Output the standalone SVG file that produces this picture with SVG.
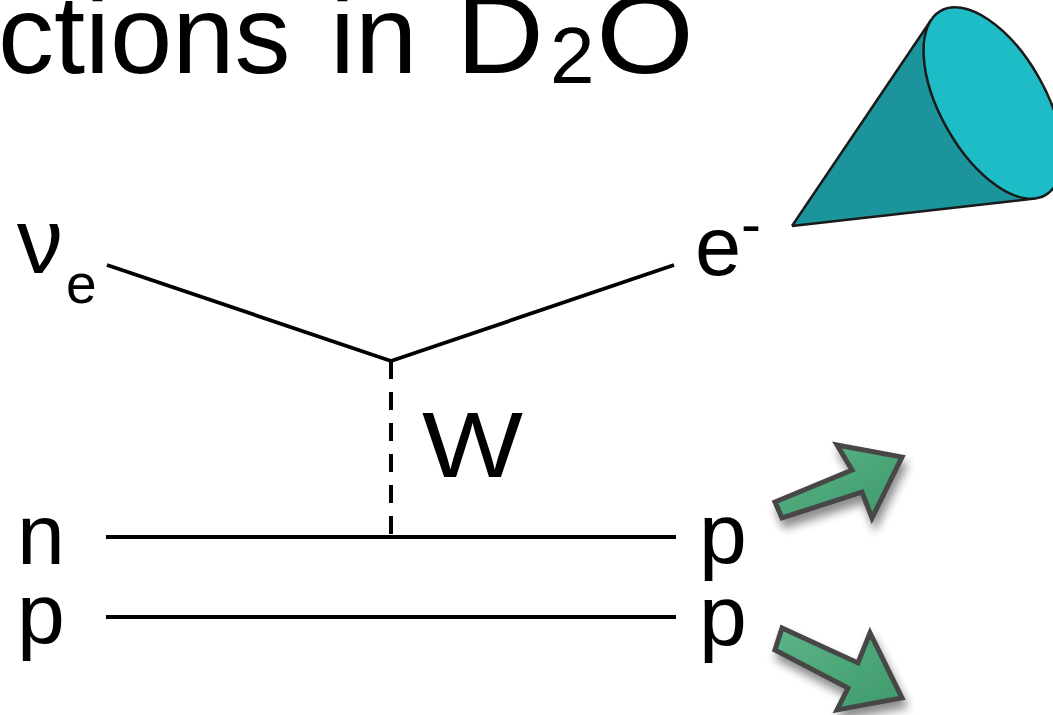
<svg xmlns="http://www.w3.org/2000/svg" width="1053" height="715" viewBox="0 0 1053 715">
  <defs>
    <style>
      .txt { font-family: "Liberation Sans", Arial, sans-serif; fill: #000; }
      .line { stroke: #000; stroke-width: 3.8; fill: none; }
      .dash { stroke: #000; stroke-width: 4; fill: none; stroke-dasharray: 18 13; }
      .arrow { fill: url(#greenFill); stroke: #474747; stroke-width: 5; stroke-linejoin: miter; filter: url(#shadow); }
      .cone-edge { stroke: #1a1a1a; stroke-width: 2.5; fill: none; }
    </style>
    <linearGradient id="greenFill" x1="0" y1="0" x2="1" y2="1">
      <stop offset="0" stop-color="#5cb487"/>
      <stop offset="1" stop-color="#3e9a6a"/>
    </linearGradient>
    <filter id="shadow" x="-30%" y="-30%" width="170%" height="170%">
      <feGaussianBlur in="SourceAlpha" stdDeviation="5"/>
      <feOffset dx="3" dy="8" result="blur"/>
      <feComponentTransfer><feFuncA type="linear" slope="0.45"/></feComponentTransfer>
      <feMerge><feMergeNode/><feMergeNode in="SourceGraphic"/></feMerge>
    </filter>
  </defs>

  <rect width="1053" height="715" fill="#fff"/>

  <!-- title -->
  <g id="title" class="txt" font-size="112">
    <text x="-2" y="73">ctions</text>
    <text x="330" y="73">in</text>
    <text x="456" y="73" textLength="88" lengthAdjust="spacingAndGlyphs">D</text>
    <text x="550" y="83" font-size="80">2</text>
    <text x="596" y="73" textLength="98" lengthAdjust="spacingAndGlyphs">O</text>
  </g>

  <!-- detector cone -->
  <g id="cone">
    <polygon points="792,226 931.3,19.7 1034.8,198.6" fill="#1b959b"/>
    <line class="cone-edge" x1="792" y1="226" x2="931.3" y2="19.7"/>
    <line class="cone-edge" x1="792" y1="226" x2="1034.8" y2="198.6"/>
    <ellipse cx="993" cy="103" rx="106" ry="52.5" transform="rotate(60.4 993 103)" fill="#1dbcc6" stroke="#1a1a1a" stroke-width="2.5"/>
  </g>

  <!-- propagators -->
  <g id="connectors">
    <line class="line" x1="107" y1="265" x2="391" y2="361"/>
    <line class="line" x1="391" y1="361" x2="674" y2="265"/>
    <line class="dash" x1="391" y1="361" x2="391" y2="537"/>
    <line class="line" x1="106" y1="537" x2="676" y2="537"/>
    <line class="line" x1="106" y1="617" x2="676" y2="617"/>
  </g>

  <!-- particle labels -->
  <g id="nu-e" class="txt">
    <text x="17" y="273" font-size="92">ν</text>
    <text x="66" y="303" font-size="55">e</text>
  </g>
  <g id="electron" class="txt">
    <text x="695" y="275" font-size="83">e</text>
    <text x="741" y="244" font-size="60">-</text>
  </g>
  <g id="w-boson" class="txt">
    <text x="422" y="477" font-size="93" textLength="101" lengthAdjust="spacingAndGlyphs">W</text>
  </g>
  <g id="neutron-in" class="txt"><text x="17" y="564" font-size="86">n</text></g>
  <g id="proton-in" class="txt"><text x="17" y="643" font-size="86">p</text></g>
  <g id="proton-out-1" class="txt"><text x="699" y="563" font-size="86">p</text></g>
  <g id="proton-out-2" class="txt"><text x="699" y="645" font-size="86">p</text></g>

  <!-- recoil arrows -->
  <g id="arrow-up">
    <polygon class="arrow" points="775,502 852,470 837,445 902,457 872,518 862,492 782,518"/>
  </g>
  <g id="arrow-down">
    <polygon class="arrow" points="782,628 858,663 870,633 902,698 837,710 848,688 775,650"/>
  </g>
</svg>
